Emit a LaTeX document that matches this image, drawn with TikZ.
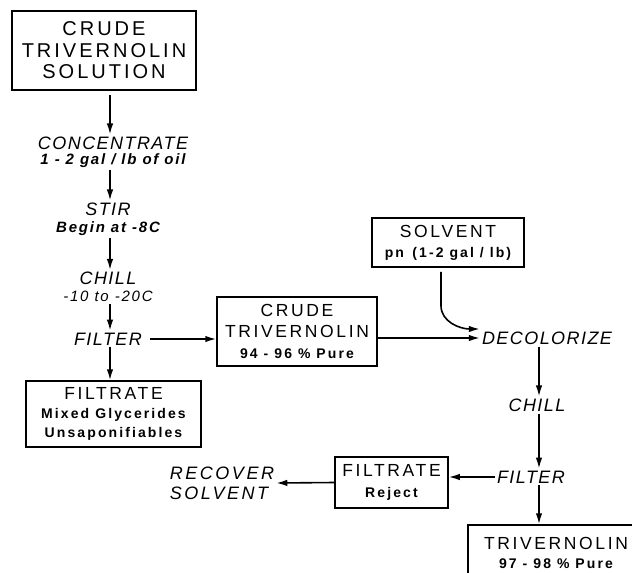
\documentclass[tikz,border=0pt]{standalone}
\usepackage{fontspec}
\usetikzlibrary{arrows.meta}
\newfontfamily\bxfam[LetterSpace=15]{Liberation Sans}
\newfontfamily\stfam[LetterSpace=8]{Liberation Sans}
\newfontfamily\rcfam[LetterSpace=14]{Liberation Sans}
\newfontfamily\cdfam[LetterSpace=12]{Liberation Sans}
\newcommand\bigttl{\bxfam\fontsize{20}{21.5}\selectfont}
\newcommand\bttl{\bxfam\fontsize{17.5}{21}\selectfont}
\newcommand\bsub{\bxfam\bfseries\fontsize{14}{21}\selectfont}
\newcommand\stg{\stfam\itshape\fontsize{18}{21}\selectfont}
\newcommand\rcv{\rcfam\itshape\fontsize{18}{21}\selectfont}
\newcommand\cond{\cdfam\bfseries\itshape\fontsize{15}{21}\selectfont}
\newcommand\condr{\cdfam\itshape\fontsize{15}{21}\selectfont}
\begin{document}
\begin{tikzpicture}[x=1pt,y=-1pt,
  bx/.style={draw,line width=1.5pt,inner sep=0pt,align=center,font=\bttl},
  lbl/.style={inner sep=2pt,align=center,font=\stg},
  arr/.style={line width=1.6pt,-{Latex[length=11pt,width=6.5pt]}}]
\useasboundingbox (0,0) rectangle (632,573);
\clip (0,0) rectangle (632,573);
\coordinate (colx) at (110,0);
\coordinate (rx) at (539,0);
\coordinate (cx) at (441,0);
% boxes
\node[bx,font=\bigttl,minimum width=184pt,minimum height=79pt] (top) at (104,50.5)
  {CRUDE\\TRIVERNOLIN\\SOLUTION};
\node[bx,minimum width=160pt,minimum height=69pt] (crude) at (297,331.5)
  {CRUDE\\TRIVERNOLIN\\\bsub 94 - 96 \% Pure};
\node[bx,minimum width=175pt,minimum height=66pt] (filtbox) at (113.5,414)
  {FILTRATE\\[-1.5pt]\bsub Mixed Glycerides\\[-2pt]\bsub Unsaponifiables};
\node[bx,minimum width=152pt,minimum height=49pt] (solv) at (448,242.5)
  {SOLVENT\\[-1pt]\bsub pn \,(1-2 gal / lb)};
\node[bx,minimum width=113pt,minimum height=51pt] (rej) at (391.5,482.5)
  {FILTRATE\\\bsub Reject};
\node[bx,minimum width=176pt,minimum height=56pt] (prod) at (556,553)
  {TRIVERNOLIN\\[-2pt]\bsub 97 - 98 \% Pure};
% stage labels
\node[lbl] (conc) at (113,152) {CONCENTRATE\\[-6pt]\cond 1 - 2 gal / lb of oil};
\node[lbl] (stir) at (108,219) {STIR\\[-4pt]\cond Begin at -8C};
\node[lbl] (chill) at (108,287) {CHILL\\[-4pt]\condr -10 to -20C};
\node[lbl] (filt) at (108,339) {FILTER};
\node[lbl] (decol) at (547,338) {DECOLORIZE};
\node[lbl] (chill2) at (537,405) {CHILL};
\node[lbl] (filt2) at (531,477) {FILTER};
\node[lbl,align=left,font=\rcv] (recov) at (222,483) {RECOVER\\[-1pt]SOLVENT};
% connectors
\draw[arr,shorten <=4pt] (top.south -| colx) -- (conc.north -| colx);
\draw[arr] (conc.south -| colx) -- (stir.north -| colx);
\draw[arr] (stir.south -| colx) -- (chill.north -| colx);
\draw[arr] (chill.south -| colx) -- (filt.north -| colx);
\draw[arr] (filt.south -| colx) -- (filtbox.north -| colx);
\draw[arr,shorten <=6pt] (filt.east) -- (filt.east -| crude.west);
\draw[arr] (crude.east |- decol.west) -- (decol.west);
\draw[arr,shorten <=4pt] (solv.south -| cx) -- ++(0,38) .. controls +(0,16) and +(-20,0) .. ([yshift=9pt]decol.west);
\draw[arr] (decol.south -| rx) -- (chill2.north -| rx);
\draw[arr] (chill2.south -| rx) -- (filt2.north -| rx);
\draw[arr] (filt2.west) -- (filt2.west -| rej.east);
\draw[arr] (rej.west) -- (recov.east);
\draw[arr] (filt2.south -| rx) -- (prod.north -| rx);
\end{tikzpicture}
\end{document}
